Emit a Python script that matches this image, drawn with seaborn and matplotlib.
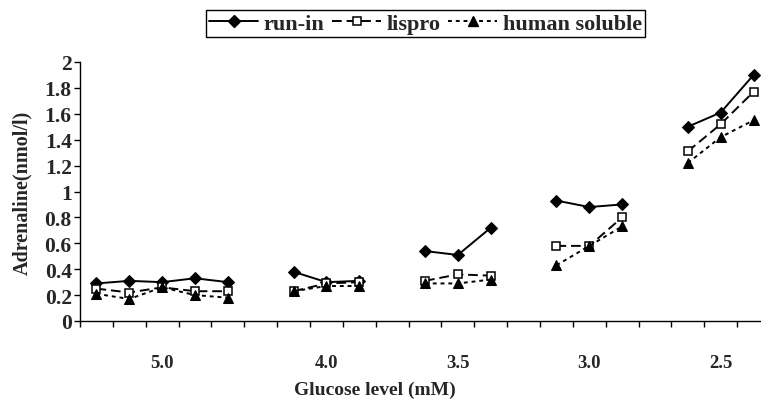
import numpy as np
import pandas as pd
import matplotlib
matplotlib.use("Agg")
import matplotlib.pyplot as plt
from matplotlib.lines import Line2D
import seaborn as sns

# ---- data ----
glucose_levels = ["5.0", "4.0", "3.5", "3.0", "2.5"]
points_per_level = [5, 3, 3, 3, 3]
run_in = [0.29, 0.31, 0.30, 0.33, 0.30,
          0.38, 0.30, 0.31,
          0.54, 0.51, 0.72,
          0.93, 0.88, 0.90,
          1.50, 1.61, 1.90]
lispro = [0.25, 0.22, 0.26, 0.23, 0.23,
          0.23, 0.29, 0.30,
          0.31, 0.36, 0.35,
          0.58, 0.58, 0.80,
          1.31, 1.52, 1.77]
human_soluble = [0.21, 0.17, 0.26, 0.20, 0.18,
                 0.23, 0.27, 0.27,
                 0.29, 0.29, 0.32,
                 0.43, 0.58, 0.73,
                 1.22, 1.42, 1.55]
y_ticks = [0, 0.2, 0.4, 0.6, 0.8, 1, 1.2, 1.4, 1.6, 1.8, 2]
series_names = ["run-in", "lispro", "human soluble"]

# ---- build long table: one empty category slot between glucose levels ----
rows = []
slot = 0
idx = 0
group_centres = []
for g, (lev, n) in enumerate(zip(glucose_levels, points_per_level)):
    slots = []
    for j in range(n):
        for name, vals in zip(series_names, [run_in, lispro, human_soluble]):
            rows.append({"slot": slot, "level": lev, "series": name, "value": vals[idx]})
        slots.append(slot)
        slot += 1
        idx += 1
    group_centres.append(np.mean(slots))
    slot += 1  # gap slot
last_slot = slot - 2
df = pd.DataFrame(rows)

# ---- styling ----
sns.set_style("ticks")
plt.rcParams["font.family"] = ["Liberation Serif", "DejaVu Serif"]
plt.rcParams["font.weight"] = "bold"

fig = plt.figure(figsize=(7.61, 4.02), dpi=100)
ax = fig.add_axes([80 / 761, 1 - 322 / 402, 690 / 761, 259 / 402])

styles = {
    "run-in": dict(linestyle="-", marker="D", markersize=6.3,
                   markerfacecolor="black", markeredgecolor="black"),
    "lispro": dict(linestyle=(0, (5, 2.5)), marker="s", markersize=6,
                   markerfacecolor="white", markeredgecolor="black", markeredgewidth=1.1),
    "human soluble": dict(linestyle=(0, (2, 2)), marker="^", markersize=7,
                          markerfacecolor="black", markeredgecolor="black"),
}

for name in series_names:
    sub = df[df["series"] == name]
    sns.lineplot(data=sub, x="slot", y="value", units="level", estimator=None,
                 color="black", linewidth=1.4, ax=ax, legend=False, **styles[name])

# axes
ax.set_xlim(-0.5, last_slot + 0.5)
ax.set_ylim(0, 2)
ax.set_yticks(y_ticks)
ax.set_yticklabels([f"{v:g}" for v in y_ticks], fontsize=15.5, fontweight="bold")
ax.set_xticks(np.arange(-0.5, last_slot + 1, 1.0))
ax.set_xticklabels([])
ax.set_xticks(group_centres, minor=True)
ax.set_xticklabels(glucose_levels, minor=True, fontsize=13.5, fontweight="bold")
ax.tick_params(axis="x", which="major", direction="out", length=4, width=1, color="black")
ax.tick_params(axis="x", which="minor", length=0, pad=24)
ax.tick_params(axis="y", direction="out", length=4, width=1, color="black", pad=2)

for s in ["top", "right"]:
    ax.spines[s].set_visible(False)
for s in ["left", "bottom"]:
    ax.spines[s].set_color("black")
    ax.spines[s].set_linewidth(1.0)

ax.set_xlabel("Glucose level (mM)", fontsize=14, fontweight="bold", va="center")
ax.xaxis.set_label_coords((375 - 80) / 690, (322 - 390) / 259)
ax.set_ylabel("Adrenaline(nmol/l)", fontsize=14.5, fontweight="bold", va="center")
ax.yaxis.set_label_coords((22 - 80) / 690, 0.5)

handles = [Line2D([], [], color="black", linewidth=1.4, **styles[n]) for n in series_names]
leg = fig.legend(handles, series_names, loc="center", bbox_to_anchor=(425.5 / 761, 1 - 24.5 / 402),
                 ncol=3, frameon=True, fancybox=False, framealpha=1, edgecolor="black",
                 prop={"size": 16, "weight": "bold"}, borderpad=0.15, handlelength=2.2,
                 handletextpad=0.25, columnspacing=0.35, borderaxespad=0)
leg.get_frame().set_linewidth(1.0)

fig.savefig("out.png", dpi=100, facecolor="white")
